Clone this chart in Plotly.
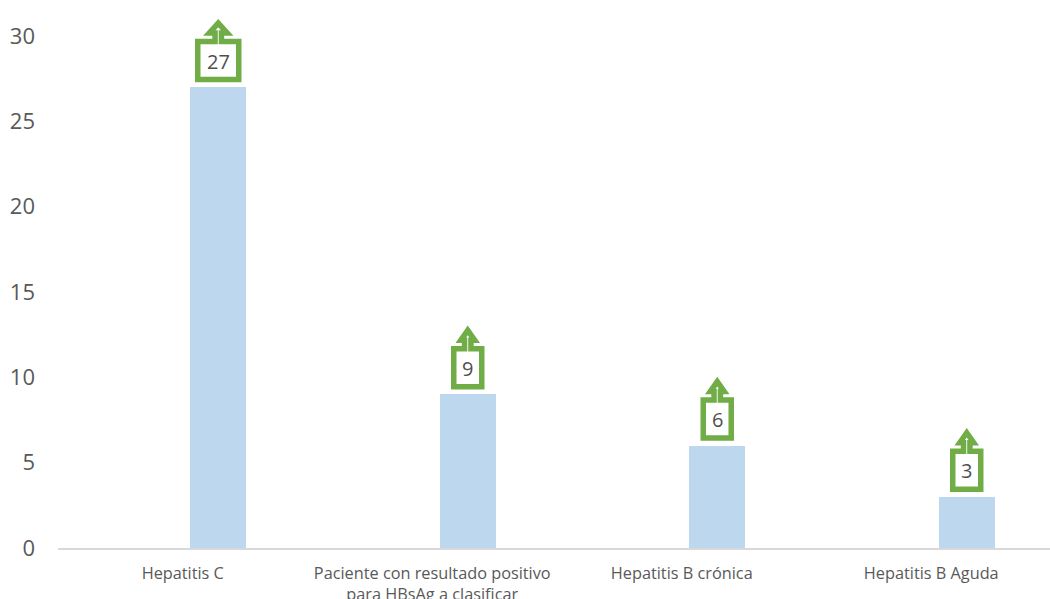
import plotly.graph_objects as go

categories = ["Hepatitis C", "Paciente con resultado positivo<br>para HBsAg a clasificar",
              "Hepatitis B crónica", "Hepatitis B Aguda"]
values = [27, 9, 6, 3]
y_ticks = [0, 5, 10, 15, 20, 25, 30]

GREEN = "#70AD47"
GRAY = "#595959"
FONT = "Open Sans, sans-serif"
DX = 35.5  # bars sit right of the category centre, as in a clustered column


def callout_path(label):
    hw = 20.5 if len(label) > 1 else 14
    hd = 9 if len(label) > 1 else 7
    l, r = DX - hw, DX + hw
    c = DX
    pts = [(l, 7.5), (r, 7.5), (r, 45.5), (c + 3.2, 45.5), (c + 3.2, 54), (c + hd, 54),
           (c, 64), (c - hd, 54), (c - 3.2, 54), (c - 3.2, 45.5), (l, 45.5)]
    return "M" + " L".join(f"{x},{y}" for x, y in pts) + " Z"


fig = go.Figure(go.Bar(
    x=categories, y=values, width=0.225, offset=DX / 249.4 - 0.1125,
    marker=dict(color="#BDD7EE", line_width=0), hoverinfo="x+y"))

for cat, v in zip(categories, values):
    label = str(v)
    fig.add_shape(type="path", path=callout_path(label),
                  xref="x", yref="y", xsizemode="pixel", ysizemode="pixel",
                  xanchor=categories.index(cat), yanchor=v,
                  fillcolor="white", line=dict(color=GREEN, width=5.5))
    fig.add_annotation(x=cat, y=v, text=label, showarrow=False, xshift=DX, yshift=26,
                       font=dict(family=FONT, size=20, color="#505050"))

fig.update_layout(
    width=1050, height=599,
    margin=dict(l=58, r=0, t=0, b=51),
    paper_bgcolor="white", plot_bgcolor="white", showlegend=False,
    bargap=0,
    xaxis=dict(type="category", range=[-0.5, 3.476], showgrid=False, zeroline=False,
               showline=True, linecolor="#D9D9D9", linewidth=2, ticks="",
               ticklabelstandoff=9,
               tickfont=dict(family=FONT, size=16.3, color=GRAY), tickangle=0,
               automargin=False),
    yaxis=dict(range=[0, 32.1], tickvals=y_ticks, showgrid=False, zeroline=False,
               showline=False, ticks="", ticklabelstandoff=22,
               tickfont=dict(family=FONT, size=22, color=GRAY), automargin=False),
)
fig.write_html("out.html", config=dict(displayModeBar=False),
               post_script="document.body.style.margin='0';document.documentElement.style.overflow='hidden';")
